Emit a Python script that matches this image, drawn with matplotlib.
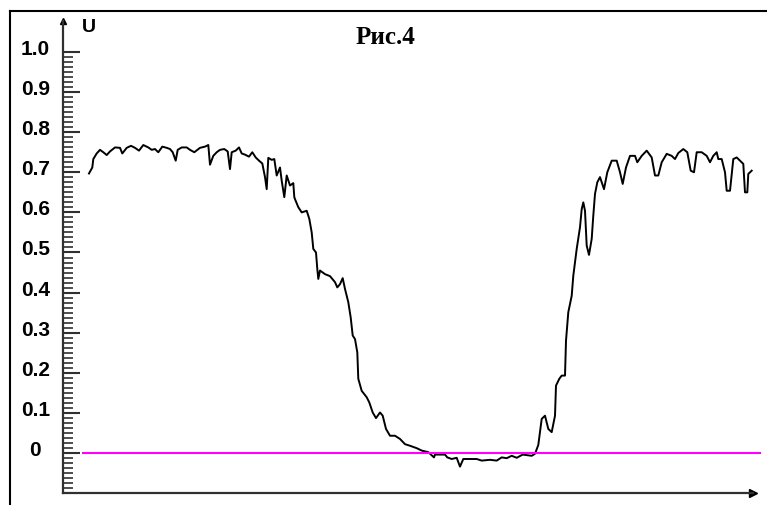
import numpy as np
import matplotlib.pyplot as plt
from matplotlib.lines import Line2D
from matplotlib.transforms import ScaledTranslation

# sample position (arbitrary units along the horizontal axis) and U values
t = [26, 29.3, 30.3, 33.7, 37, 40.3, 43.7, 47, 52, 57, 59.3, 63.7, 68, 72, 76,
     80.3, 85.3, 88.7, 92, 95.3, 99.3, 103.7, 107, 109.7, 112.7, 114.7, 118.7,
     123.7, 127, 131.3, 137, 142, 145.3, 147, 150.3, 153.7, 157, 161.3, 164.7,
     167, 168.7, 172.7, 176, 178.7, 182, 186, 189.3, 192.7, 196, 199.3, 202,
     203.7, 205.3, 208.7, 211.3, 213.7, 217, 218.7, 221.3, 223.7, 227, 230.3,
     231.3, 232, 235.3, 238.7, 243.7, 246.3, 248.7, 250.3, 253, 254.3, 255.3,
     257, 262, 267, 272, 274.3, 277, 279.7, 282, 285.3, 287.7, 289.7, 292,
     294.3, 295.3, 298.7, 303.7, 306.3, 309.7, 313, 317, 319.7, 323, 327, 332,
     337, 342, 347, 353.7, 358.7, 365.3, 371, 372, 382, 384.3, 388.7, 393.7,
     397, 400.3, 413.7, 418.7, 427, 433.7, 438.7, 443.7, 448.7, 453.7, 459.7,
     468.7, 472, 475.3, 478.7, 482, 485.3, 488.7, 492, 493, 496.3, 498.7, 502,
     503, 505.3, 508.7, 510.3, 513.7, 517, 518.7, 520.3, 522, 523.7, 526,
     528.7, 530.3, 532, 534.3, 537, 541, 544.3, 548.7, 553.7, 557, 559.7, 563,
     567, 572, 574.3, 578.7, 583.7, 588.7, 592, 595.3, 598.7, 603.7, 608.7,
     612, 615.3, 620.3, 624.3, 627.7, 631, 633.7, 638.7, 643.7, 647, 650.3,
     653.7, 655.3, 658.7, 662, 663.7, 667, 670.3, 673.7, 677, 680.3, 682,
     684.3, 685.3, 688.7]
u = [0.697, 0.712, 0.733, 0.747, 0.756, 0.750, 0.743, 0.752, 0.762, 0.761,
     0.747, 0.761, 0.766, 0.761, 0.754, 0.768, 0.762, 0.756, 0.758, 0.750,
     0.764, 0.761, 0.758, 0.750, 0.729, 0.756, 0.762, 0.762, 0.756, 0.750,
     0.761, 0.764, 0.768, 0.719, 0.741, 0.750, 0.756, 0.758, 0.752, 0.708,
     0.750, 0.754, 0.762, 0.747, 0.744, 0.739, 0.750, 0.737, 0.729, 0.722,
     0.688, 0.658, 0.736, 0.731, 0.733, 0.692, 0.712, 0.679, 0.638, 0.692,
     0.667, 0.673, 0.638, 0.633, 0.613, 0.600, 0.604, 0.584, 0.550, 0.509,
     0.500, 0.459, 0.434, 0.455, 0.446, 0.441, 0.426, 0.413, 0.421, 0.436,
     0.409, 0.376, 0.338, 0.293, 0.284, 0.251, 0.185, 0.155, 0.139, 0.126,
     0.101, 0.087, 0.101, 0.093, 0.060, 0.043, 0.043, 0.035, 0.022, 0.018,
     0.012, 0.006, 0.002, -0.011, -0.004, -0.004, -0.011, -0.015, -0.012,
     -0.034, -0.015, -0.015, -0.019, -0.017, -0.019, -0.011, -0.013, -0.007,
     -0.012, -0.004, -0.007, -0.002, 0.020, 0.085, 0.093, 0.060, 0.052,
     0.093, 0.168, 0.185, 0.193, 0.193, 0.280, 0.351, 0.392, 0.442, 0.509,
     0.563, 0.608, 0.625, 0.604, 0.517, 0.494, 0.534, 0.592, 0.646, 0.675,
     0.688, 0.658, 0.700, 0.729, 0.729, 0.700, 0.671, 0.712, 0.741, 0.741,
     0.725, 0.741, 0.754, 0.737, 0.692, 0.692, 0.725, 0.746, 0.741, 0.733,
     0.748, 0.758, 0.750, 0.704, 0.700, 0.750, 0.750, 0.741, 0.725, 0.741,
     0.750, 0.733, 0.733, 0.700, 0.654, 0.654, 0.733, 0.737, 0.729, 0.721,
     0.650, 0.650, 0.696, 0.704]

yticks = [0, 0.1, 0.2, 0.3, 0.4, 0.5, 0.6, 0.7, 0.8, 0.9, 1.0]
ylabels = ["0", "0.1", "0.2", "0.3", "0.4", "0.5", "0.6", "0.7", "0.8", "0.9", "1.0"]
zero_line = [20, 697]

W, H = 767, 506
fig = plt.figure(figsize=(W / 100, H / 100), dpi=100)
ax = fig.add_axes([63 / W, 12 / H, 690 / W, 472 / H])

ax.plot(t, u, color="black", lw=1.4)
ax.plot(zero_line, [0, 0], color="#ff00ff", lw=1.5, clip_on=False)

ax.set_xlim(0, 690)
ax.set_ylim(-0.0998, 1.0773)

for s in ["top", "right"]:
    ax.spines[s].set_visible(False)
for s in ["left", "bottom"]:
    ax.spines[s].set_color("#303030")
    ax.spines[s].set_linewidth(1.6)

ax.set_xticks([])
ax.set_yticks(yticks)
ax.set_yticklabels(ylabels)
minor = [k * 0.0125 for k in range(-7, 80) if k % 8 != 0]
ax.set_yticks(minor, minor=True)
ax.tick_params(axis="y", which="major", direction="in", length=12.2, width=1.5,
               color="#303030", pad=20)
ax.tick_params(axis="y", which="minor", direction="in", length=7.2, width=1.2,
               color="#303030")

off = ScaledTranslation(0, 5.5 / 100, fig.dpi_scale_trans)
for lab in ax.get_yticklabels():
    lab.set_fontfamily("Liberation Sans")
    lab.set_fontweight("bold")
    lab.set_fontsize(15)
    lab.set_horizontalalignment("center")
    lab.set_transform(lab.get_transform() + off)

# axis arrows
ax.plot(1, 0, ">", color="black", ms=6, transform=ax.transAxes, clip_on=False)
ax.plot(0, 1, "^", color="black", ms=5, transform=ax.transAxes, clip_on=False)

fig.text(89 / W, 1 - 28 / H, "U", family="Liberation Sans", weight="bold",
         fontsize=14, ha="center", va="center")
fig.text(385 / W, 1 - 37 / H, "Рис.4", family="Liberation Serif", weight="bold",
         fontsize=18, ha="center", va="center")

# outer frame (left and top)
fig.add_artist(Line2D([10 / W, 10 / W], [0, 1 - 12 / H], color="black", lw=1.5,
                      transform=fig.transFigure))
fig.add_artist(Line2D([10 / W, 1], [1 - 12 / H, 1 - 12 / H], color="black", lw=1.5,
                      transform=fig.transFigure))

fig.savefig("out.png", dpi=100)
